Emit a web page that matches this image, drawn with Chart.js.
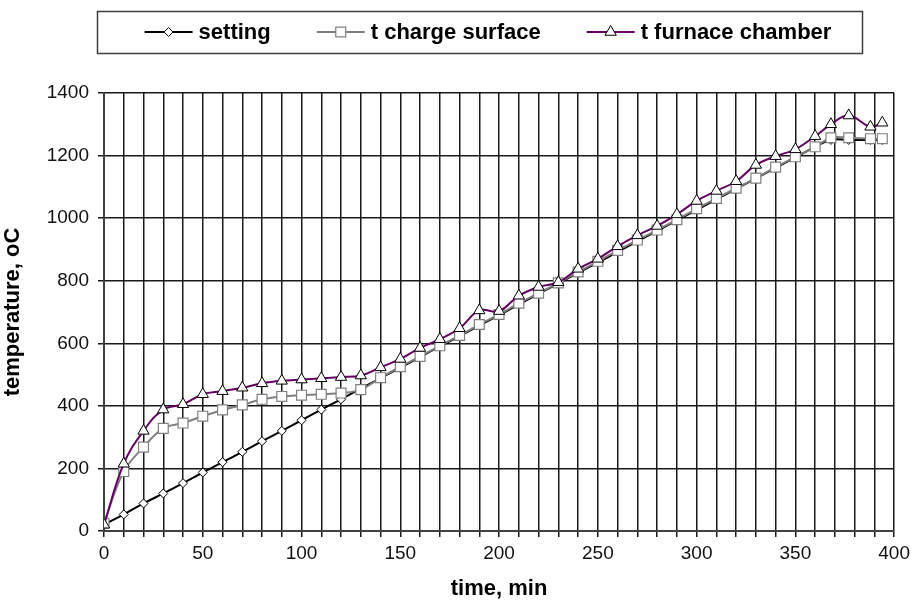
<!DOCTYPE html>
<html>
<head>
<meta charset="utf-8">
<script src="https://cdn.jsdelivr.net/npm/chart.js@4.4.0/dist/chart.umd.min.js"></script>
<style>
    html, body { margin: 0; padding: 0; background: #fff; }
    canvas { display: block; }
</style>
</head>
<body>
<canvas id="myChart" width="915" height="608"></canvas>
<script>
    // time, min
    var times = [0, 10, 20, 30, 40, 50, 60, 70, 80, 90, 100, 110, 120, 130, 140, 150, 160, 170, 180, 190,
                 200, 210, 220, 230, 240, 250, 260, 270, 280, 290, 300, 310, 320, 330, 340, 350, 360,
                 368, 377, 388, 394];
    // temperature, oC
    var setting = [20, 53, 88, 120, 153, 187, 220, 253, 287, 320, 354, 388, 421, 455, 489, 522, 556, 590, 623, 657,
                   690, 724, 758, 791, 825, 858, 892, 926, 959, 993, 1026, 1060, 1094, 1127, 1161, 1194, 1228,
                   1250, 1250, 1250, 1250];
    var chargeSurface = [25, 190, 268, 328, 345, 367, 387, 403, 421, 430, 434, 437, 441, 452, 490, 525, 558, 592, 625, 660,
                         692, 728, 760, 793, 828, 862, 897, 930, 962, 995, 1030, 1063, 1096, 1128, 1163, 1196, 1228,
                         1257, 1257, 1254, 1254];
    var furnaceChamber = [20, 215, 320, 388, 405, 437, 447, 458, 472, 480, 484, 488, 492, 497, 523, 550, 585, 613, 648, 705,
                          703, 752, 780, 795, 838, 870, 910, 945, 975, 1012, 1055, 1087, 1118, 1170, 1198, 1220, 1262,
                          1300, 1328, 1292, 1305];
    var seriesNames = ["setting", "t charge surface", "t furnace chamber"];

    function points(values) {
        var out = [];
        for (var i = 0; i < times.length; i++)
            out.push({x: times[i], y: values[i]});
        return out;
    }

    var boldFont = {family: "'Liberation Sans', Arial, sans-serif", size: 22, weight: 'bold'};
    var tickFont = {family: "'Liberation Sans', Arial, sans-serif", size: 19};

    // legend in a box like the Excel original: line sample + marker + label
    var boxLegend = {
        id: 'boxLegend',
        afterDraw: function (chart) {
            var ctx = chart.ctx;
            ctx.save();
            ctx.strokeStyle = '#404040';
            ctx.lineWidth = 1.5;
            ctx.strokeRect(97.5, 11.5, 765, 42);

            ctx.font = 'bold 22px "Liberation Sans", Arial, sans-serif';
            var sample = 48, gap = 6, between = 46, cy = 32;
            var total = 0;
            chart.data.datasets.forEach(function (ds, i) {
                total += sample + gap + ctx.measureText(ds.label).width;
                if (i > 0) total += between;
            });
            var x = 488 - total / 2;
            chart.data.datasets.forEach(function (ds) {
                ctx.strokeStyle = ds.borderColor;
                ctx.lineWidth = 2;
                ctx.beginPath();
                ctx.moveTo(x, cy);
                ctx.lineTo(x + sample, cy);
                ctx.stroke();
                ctx.fillStyle = ds.pointBackgroundColor;
                ctx.strokeStyle = ds.pointBorderColor;
                ctx.lineWidth = ds.pointBorderWidth;
                Chart.helpers.drawPoint(ctx, {pointStyle: ds.pointStyle, radius: ds.pointRadius, rotation: 0,
                    borderWidth: ds.pointBorderWidth}, x + sample / 2, cy);
                ctx.fillStyle = '#000';
                ctx.textBaseline = 'middle';
                ctx.textAlign = 'left';
                ctx.fillText(ds.label, x + sample + gap, cy + 1);
                x += sample + gap + ctx.measureText(ds.label).width + between;
            });
            ctx.restore();
        }
    };

    var ctx = document.getElementById("myChart");
    var myChart = new Chart(ctx, {
        type: 'line',
        data: {
            datasets: [
                {
                    label: seriesNames[0],
                    data: points(setting),
                    borderColor: '#000000',
                    borderWidth: 2,
                    pointStyle: 'rectRot',
                    pointRadius: 4.5,
                    pointBackgroundColor: '#ffffff',
                    pointBorderColor: '#000000',
                    pointBorderWidth: 1,
                    tension: 0.4,
                    order: 3
                },
                {
                    label: seriesNames[1],
                    data: points(chargeSurface),
                    borderColor: '#808080',
                    borderWidth: 2,
                    pointStyle: 'rect',
                    pointRadius: 7,
                    pointBackgroundColor: '#ffffff',
                    pointBorderColor: '#808080',
                    pointBorderWidth: 1.2,
                    tension: 0.4,
                    order: 2
                },
                {
                    label: seriesNames[2],
                    data: points(furnaceChamber),
                    borderColor: '#660066',
                    borderWidth: 2,
                    pointStyle: 'triangle',
                    pointRadius: 6.5,
                    pointBackgroundColor: '#ffffff',
                    pointBorderColor: '#000000',
                    pointBorderWidth: 1,
                    tension: 0.4,
                    order: 1
                }
            ]
        },
        options: {
            responsive: false,
            animation: false,
            layout: {
                padding: {top: 93, right: 18, bottom: 0, left: 0}
            },
            plugins: {
                legend: {display: false},
                tooltip: {enabled: false}
            },
            scales: {
                x: {
                    type: 'linear',
                    min: 0,
                    max: 400,
                    afterFit: function (scale) { scale.height = 77; },
                    border: {color: '#404040', width: 2},
                    grid: {color: '#1a1a1a', lineWidth: 1.5, tickLength: 6},
                    ticks: {
                        stepSize: 10,
                        autoSkip: false,
                        maxRotation: 0,
                        padding: 5,
                        color: '#111',
                        font: tickFont,
                        callback: function (v) { return v % 50 === 0 ? String(v) : ''; }
                    },
                    title: {display: true, text: 'time, min', color: '#000', font: boldFont,
                            padding: {top: 0, bottom: 6}}
                },
                y: {
                    min: 0,
                    max: 1400,
                    afterFit: function (scale) { scale.width = 104; },
                    border: {color: '#404040', width: 2},
                    grid: {color: '#1a1a1a', lineWidth: 1.5, tickLength: 6},
                    ticks: {
                        stepSize: 200,
                        padding: 9,
                        color: '#111',
                        font: tickFont,
                        callback: function (v) { return String(v); }
                    },
                    title: {display: true, text: 'temperature, oC', color: '#000', font: boldFont,
                            padding: {top: 0, bottom: 6}}
                }
            }
        },
        plugins: [boxLegend]
    });
</script>
</body>
</html>
